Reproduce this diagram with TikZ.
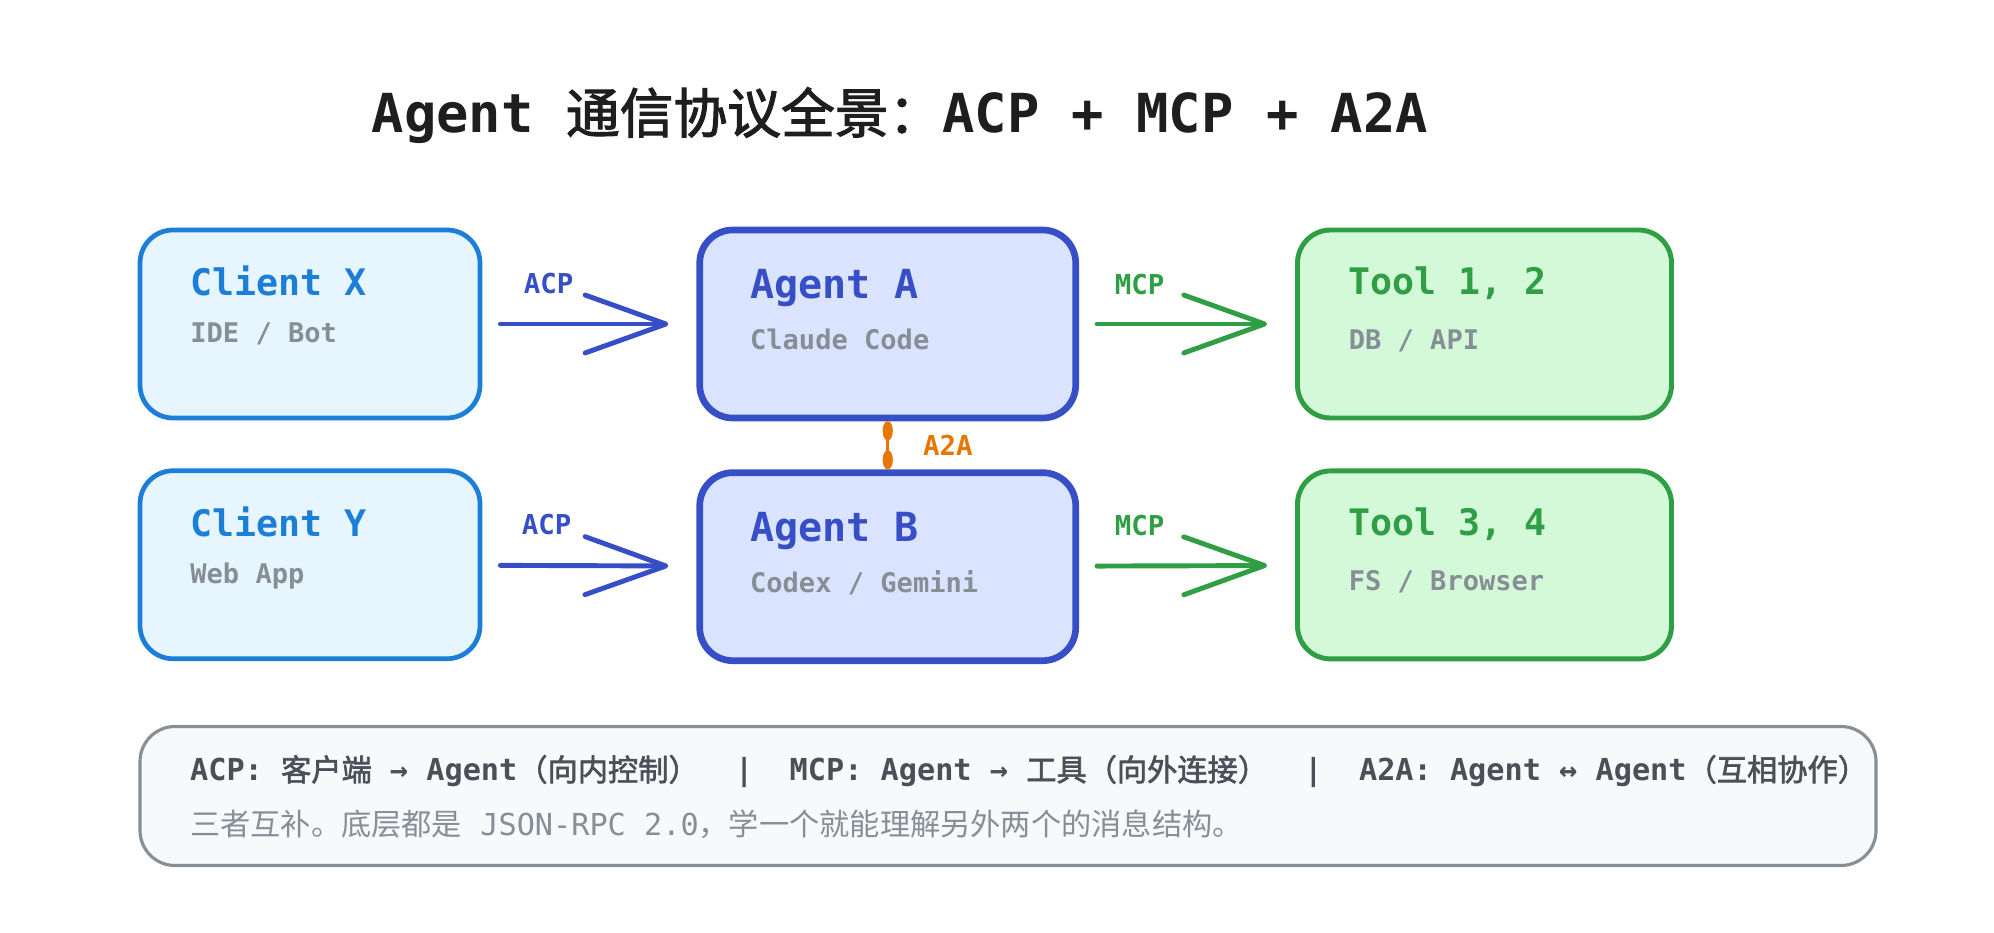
\documentclass[tikz,border=0pt]{standalone}
\usepackage{fontspec}
\setmainfont{DejaVu Sans Mono}
\newfontfamily\cjk{Noto Sans CJK SC}
\newfontfamily\cjkheavy{Noto Sans CJK SC}[FakeBold=2]
\newcommand\zh[1]{{\cjk #1}}
\newcommand\zhb[1]{{\cjkheavy\mdseries #1}}
\usetikzlibrary{positioning,arrows.meta}

\definecolor{ink}{HTML}{1E1E1E}
\definecolor{clientblue}{HTML}{1C7ED6}
\definecolor{clientfill}{HTML}{E7F5FF}
\definecolor{agentblue}{HTML}{364FC7}
\definecolor{agentfill}{HTML}{DBE4FF}
\definecolor{toolgreen}{HTML}{2F9E44}
\definecolor{toolfill}{HTML}{D3F9D8}
\definecolor{subgray}{HTML}{868E96}
\definecolor{notefill}{HTML}{F8F9FA}
\definecolor{notetext}{HTML}{495057}
\definecolor{a2aorange}{HTML}{E67700}

\tikzset{
  card/.style={rectangle, rounded corners=3.3mm, inner sep=0pt, minimum height=18.8mm},
  client/.style={card, draw=clientblue, fill=clientfill, line width=1.35pt, minimum width=34mm},
  agent/.style={card, draw=agentblue, fill=agentfill, line width=1.9pt, minimum width=37.6mm},
  tool/.style={card, draw=toolgreen, fill=toolfill, line width=1.4pt, minimum width=37.4mm},
  head/.style={inner sep=0pt, anchor=base west, font=\bfseries\fontsize{10.4}{12}\selectfont},
  agenthead/.style={head, font=\bfseries\fontsize{11.4}{13}\selectfont, text=agentblue},
  sub/.style={inner sep=0pt, anchor=base west, text=subgray, font=\bfseries\fontsize{7.7}{9}\selectfont},
  lbl/.style={inner sep=0pt, font=\bfseries\fontsize{7.8}{9}\selectfont},
  flow/.style={line width=1.4pt, line cap=round, shorten <=1.8mm, shorten >=2.8mm,
    -{Straight Barb[length=23pt,width=16.5pt,round]}},
  note/.style={rectangle, rounded corners=3.5mm, draw=subgray, fill=notefill, line width=0.9pt,
    minimum width=173.6mm, minimum height=13.9mm, inner sep=0pt}
}

\begin{document}
\begin{tikzpicture}[x=0.1mm, y=-0.1mm]
  \useasboundingbox (0,0) rectangle (1994,932);

  \node[inner sep=0pt, anchor=base west, text=ink, font=\bfseries\fontsize{15.3}{18}\selectfont] (title) at (371,133)
    {Agent \zhb{通信协议全景：}ACP + MCP + A2A};

  \node[client] (cx) at (310,324) {};
  \node[agent, right=21.4mm of cx] (aa) {};
  \node[tool, right=21.6mm of aa] (t12) {};
  \node[client, below=4.8mm of cx] (cy) {};
  \node[agent, below=4.8mm of aa] (ab) {};
  \node[tool, below=4.8mm of t12] (t34) {};

  \node[head, text=clientblue] (cxh) at ([shift={(52,68)}]cx.north west) {Client X};
  \node[sub] (cxs) at ([shift={(52,115)}]cx.north west) {IDE / Bot};
  \node[head, text=clientblue] (cyh) at ([shift={(52,68)}]cy.north west) {Client Y};
  \node[sub] (cys) at ([shift={(52,115)}]cy.north west) {Web App};

  \node[agenthead] (aah) at ([shift={(53,72)}]aa.north west) {Agent A};
  \node[sub] (aas) at ([shift={(53,123)}]aa.north west) {Claude Code};
  \node[agenthead] (abh) at ([shift={(53,72)}]ab.north west) {Agent B};
  \node[sub] (abs) at ([shift={(53,123)}]ab.north west) {Codex / Gemini};

  \node[head, text=toolgreen] (t12h) at ([shift={(53,67)}]t12.north west) {Tool 1, 2};
  \node[sub] (t12s) at ([shift={(53,122)}]t12.north west) {DB / API};
  \node[head, text=toolgreen] (t34h) at ([shift={(53,67)}]t34.north west) {Tool 3, 4};
  \node[sub] (t34s) at ([shift={(53,122)}]t34.north west) {FS / Browser};

  \draw[flow, agentblue] (cx) -- (aa)
    node[lbl, pos=.31, anchor=base, yshift=3.07mm, text=agentblue] (acp1) {ACP};
  \draw[flow, agentblue] (cy) -- (ab)
    node[lbl, pos=.30, anchor=base, yshift=3.07mm, text=agentblue] (acp2) {ACP};
  \draw[flow, toolgreen] (aa) -- (t12)
    node[lbl, pos=.28, anchor=base, yshift=3.0mm, text=toolgreen] (mcp1) {MCP};
  \draw[flow, toolgreen] (ab) -- (t34)
    node[lbl, pos=.28, anchor=base, yshift=3.0mm, text=toolgreen] (mcp2) {MCP};

  \draw[a2aorange, line width=0.8pt,
    {Ellipse[length=5.4pt,width=2.9pt]}-{Ellipse[length=5.4pt,width=2.9pt]}] (aa) -- (ab)
    node[lbl, midway, anchor=west, xshift=3.4mm, text=a2aorange] (a2a) {A2A};

  \node[note] (nt) at (1008,796) {};
  \node[inner sep=0pt, anchor=base west, text=notetext, font=\bfseries\fontsize{8.6}{10}\selectfont] (nl1)
    at ([shift={(51,56)}]nt.north west)
    {ACP: \zhb{客户端} → Agent\zhb{（向内控制）}\ \ |\ \ MCP: Agent → \zhb{工具（向外连接）}\ \ |\ \ A2A: Agent ↔ Agent\zhb{（互相协作）}};
  \node[inner sep=0pt, anchor=base west, text=subgray, font=\fontsize{8.6}{10}\selectfont] (nl2)
    at ([shift={(51,111)}]nt.north west)
    {\zh{三者互补。底层都是} JSON-RPC 2.0\zh{，学一个就能理解另外两个的消息结构。}};
\end{tikzpicture}
\end{document}
